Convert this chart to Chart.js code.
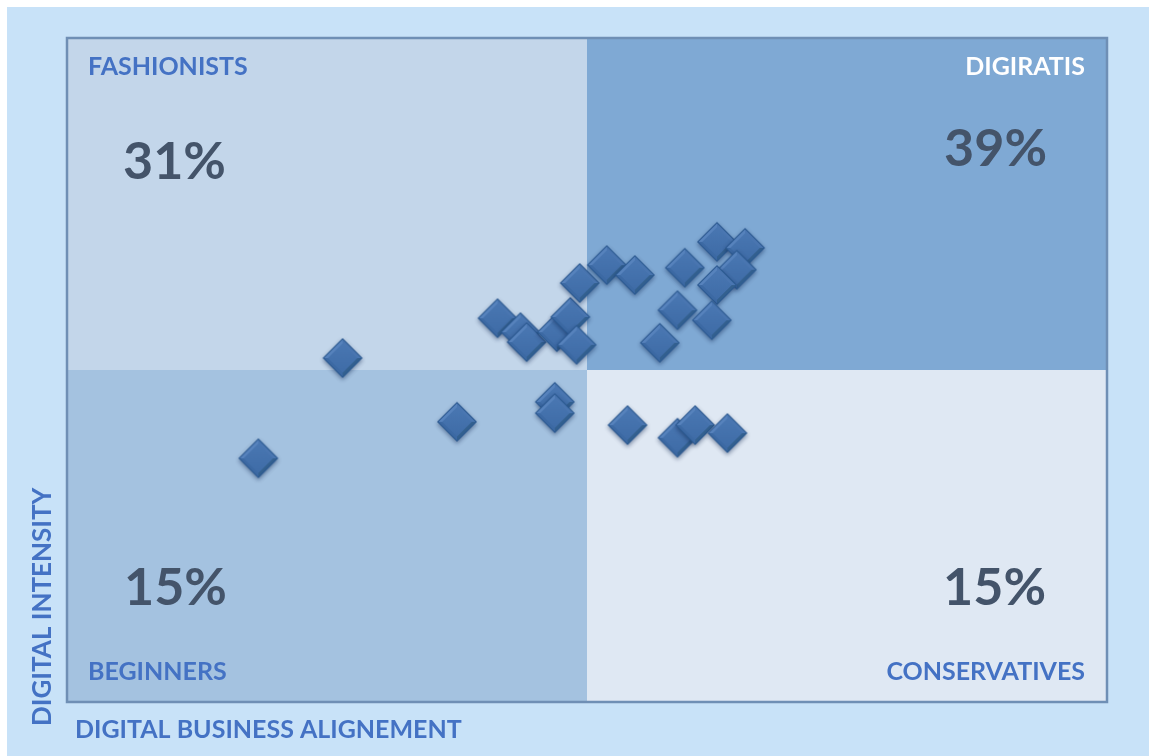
<!DOCTYPE html>
<html>
<head>
<meta charset="utf-8">
<script src="https://cdn.jsdelivr.net/npm/chart.js@4.4.1/dist/chart.umd.min.js"></script>
<style>
  html, body { margin: 0; padding: 0; background: #ffffff; }
  #wrap { position: absolute; left: 7px; top: 7px; width: 1142px; height: 749px; background: #c8e2f8; }
</style>
</head>
<body>
<div id="wrap"><canvas id="matrix"></canvas></div>
<script>
// axis range (center line at 50 splits the quadrants)
const axisMin = 0;
const axisMax = 100;
const splitValue = 50;

// companies: digital business alignment (x) vs digital intensity (y)
const alignment = [18.4, 26.5, 37.5, 46.9, 46.9, 53.9, 58.7, 60.4, 63.5,
                   41.4, 43.6, 44.2, 47.1, 48.4, 49.0, 49.3, 51.9, 54.6,
                   59.4, 62.5, 65.2, 64.4, 62.5, 58.7, 62.0, 57.0];
const intensity = [36.7, 51.8, 42.2, 45.2, 43.5, 41.7, 39.8, 41.7, 40.5,
                   57.8, 55.7, 54.2, 55.7, 58.0, 53.8, 63.1, 65.8, 64.3,
                   65.4, 69.3, 68.4, 65.1, 62.8, 59.0, 57.5, 54.1];

// quadrant names and shares
const quadrantNames = ['FASHIONISTS', 'DIGIRATIS', 'BEGINNERS', 'CONSERVATIVES'];
const quadrantShares = ['31%', '39%', '15%', '15%'];
const xTitle = 'DIGITAL BUSINESS ALIGNEMENT';
const yTitle = 'DIGITAL INTENSITY';

const points = alignment.map((x, i) => ({ x: x, y: intensity[i] }));

// bevelled diamond used as the point style
function makeDiamond(r) {
    const size = Math.ceil(r * 2 + 12);
    const c = document.createElement('canvas');
    c.width = size;
    c.height = size;
    const g = c.getContext('2d');
    const cx = size / 2, cy = size / 2;
    const path = (rr) => {
        g.beginPath();
        g.moveTo(cx, cy - rr);
        g.lineTo(cx + rr, cy);
        g.lineTo(cx, cy + rr);
        g.lineTo(cx - rr, cy);
        g.closePath();
    };
    g.save();
    g.shadowColor = 'rgba(10, 30, 70, 0.45)';
    g.shadowBlur = 4;
    g.shadowOffsetY = 2;
    path(r);
    g.fillStyle = '#2c5a91';
    g.fill();
    g.restore();

    // facets
    const ri = r - 1.5;
    const tri = (ax, ay, bx, by, col) => {
        g.beginPath();
        g.moveTo(cx, cy);
        g.lineTo(ax, ay);
        g.lineTo(bx, by);
        g.closePath();
        g.fillStyle = col;
        g.fill();
    };
    tri(cx - ri, cy, cx, cy - ri, '#5783bd');
    tri(cx, cy - ri, cx + ri, cy, '#4a76b1');
    tri(cx + ri, cy, cx, cy + ri, '#33608f');
    tri(cx, cy + ri, cx - ri, cy, '#3c69a3');

    // raised face
    const grad = g.createLinearGradient(cx, cy - r, cx, cy + r);
    grad.addColorStop(0, '#4b79b4');
    grad.addColorStop(1, '#3d6aa5');
    path(r * 0.74);
    g.fillStyle = grad;
    g.fill();
    return c;
}

const quadrantPlugin = {
    id: 'quadrants',
    beforeDatasetsDraw(chart) {
        const { ctx, chartArea: a, scales } = chart;
        const mx = scales.x.getPixelForValue(splitValue);
        const my = scales.y.getPixelForValue(splitValue);
        ctx.save();
        ctx.fillStyle = '#c3d6ea';
        ctx.fillRect(a.left, a.top, mx - a.left, my - a.top);
        ctx.fillStyle = '#7fa9d4';
        ctx.fillRect(mx, a.top, a.right - mx, my - a.top);
        ctx.fillStyle = '#a4c2e0';
        ctx.fillRect(a.left, my, mx - a.left, a.bottom - my);
        ctx.fillStyle = '#dfe8f3';
        ctx.fillRect(mx, my, a.right - mx, a.bottom - my);

        ctx.strokeStyle = '#6f8fb5';
        ctx.lineWidth = 2.5;
        ctx.strokeRect(a.left, a.top, a.right - a.left, a.bottom - a.top);

        // quadrant names
        ctx.font = 'bold 25px Lato';
        ctx.textBaseline = 'middle';
        ctx.fillStyle = '#4472c4';
        ctx.textAlign = 'left';
        ctx.fillText(quadrantNames[0], a.left + 21, a.top + 29);
        ctx.fillText(quadrantNames[2], a.left + 21, a.bottom - 30);
        ctx.textAlign = 'right';
        ctx.fillStyle = '#ffffff';
        ctx.fillText(quadrantNames[1], a.right - 22, a.top + 29);
        ctx.fillStyle = '#4472c4';
        ctx.fillText(quadrantNames[3], a.right - 22, a.bottom - 30);

        // shares
        ctx.font = 'bold 52px Lato';
        ctx.fillStyle = '#44546a';
        ctx.textAlign = 'left';
        ctx.fillText(quadrantShares[0], a.left + 56, a.top + 124);
        ctx.fillText(quadrantShares[2], a.left + 57, a.bottom - 114);
        ctx.textAlign = 'right';
        ctx.fillText(quadrantShares[1], a.right - 60, a.top + 111);
        ctx.fillText(quadrantShares[3], a.right - 61, a.bottom - 114);

        // axis titles
        ctx.font = 'bold 25px Lato';
        ctx.fillStyle = '#4472c4';
        ctx.textAlign = 'left';
        ctx.fillText(xTitle, a.left + 8, a.bottom + 28);
        ctx.font = 'bold 26px Lato';
        ctx.translate(a.left - 24, a.bottom + 24);
        ctx.rotate(-Math.PI / 2);
        ctx.fillText(yTitle, 0, 0);
        ctx.restore();
    }
};

const ctx = document.getElementById('matrix').getContext('2d');
const matrixChart = new Chart(ctx, {
    type: 'scatter',
    data: {
        datasets: [{
            label: 'Companies',
            data: points,
            pointStyle: makeDiamond(20),
            pointRadius: 20
        }]
    },
    options: {
        responsive: true,
        maintainAspectRatio: false,
        animation: false,
        layout: {
            padding: { left: 60, top: 31, right: 42, bottom: 54 }
        },
        plugins: {
            legend: { display: false },
            tooltip: { enabled: false }
        },
        scales: {
            x: { type: 'linear', min: axisMin, max: axisMax, display: false },
            y: { type: 'linear', min: axisMin, max: axisMax, display: false }
        }
    },
    plugins: [quadrantPlugin]
});
</script>
</body>
</html>
